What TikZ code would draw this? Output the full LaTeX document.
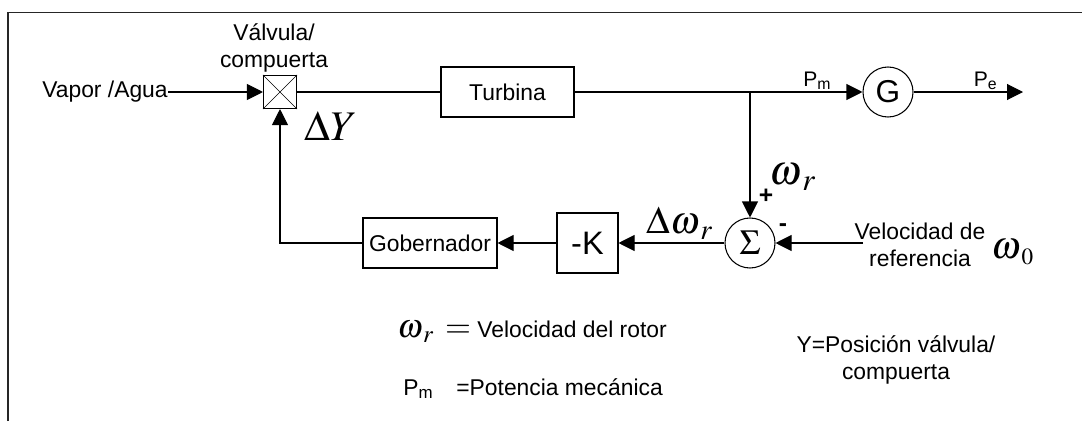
\documentclass[tikz,border=0pt]{standalone}
\usepackage{mathptmx}
\usepackage[no-math]{fontspec}
\setmainfont{Liberation Sans}
\usetikzlibrary{positioning,arrows.meta}

\begin{document}
\begin{tikzpicture}[
    blk/.style={rectangle, draw, line width=0.6pt, minimum height=1cm, inner sep=0pt, align=center, font=\fontsize{13}{15.5}\selectfont},
    gsum/.style={circle, draw, line width=0.6pt, minimum size=1cm, inner sep=0pt},
    txt/.style={align=center, inner sep=0pt, font=\fontsize{13}{15.5}\selectfont},
    small/.style={inner sep=0pt, font=\fontsize{12}{14}\selectfont},
    mth/.style={inner sep=0pt, font=\fontsize{22}{22}\selectfont},
    sig/.style={-{Triangle[length=0.32cm, width=0.32cm]}, line width=0.6pt},
    wire/.style={line width=0.6pt}
]
\useasboundingbox (0,0) rectangle (21.64,8.42);
\draw[line width=1.1pt, black!85] (0.16,0) -- (0.16,8.17) -- (21.64,8.17);
\node[txt, anchor=east] (vapor) at (3.36,6.58) {Vapor /Agua};
\node[blk, minimum width=0.66cm, minimum height=0.66cm] (valve) at (5.6,6.58) {};
\node[txt, above=0.05cm of valve, xshift=-0.12cm] (vlab) {Válvula/\\compuerta};
\node[blk, minimum width=2.66cm] (turb) at (10.15,6.58) {Turbina};
\coordinate (jn) at (15.0,6.58);
\node[gsum, font=\fontsize{18}{18}\selectfont] (gen) at (17.76,6.58) {G};
\coordinate (pe) at (20.46,6.58);
\node[gsum, font=\fontsize{20}{20}\selectfont] (sum) at (15.0,3.56) {$\Sigma$};
\node[blk, minimum width=1.22cm, minimum height=1.2cm, font=\fontsize{18.5}{20}\selectfont] (gain) at (11.75,3.56) {-K};
\node[blk, minimum width=2.68cm] (gob) at (8.6,3.56) {Gobernador};
\coordinate (vref) at (17.26,3.56);
\node[txt] (vreftxt) at (18.4,3.52) {Velocidad de\\referencia};
\node[mth] (w0) at (20.26,3.38) {$\omega_{\,\scriptscriptstyle 0}$};
\node[mth, font=\fontsize{24}{24}\selectfont] (dY) at (6.62,5.9) {$\Delta Y$};
\node[mth, font=\fontsize{24}{24}\selectfont] (wr) at (15.86,4.88) {$\omega_{\,r}$};
\node[inner sep=0pt, font=\bfseries\fontsize{14}{14}\selectfont] (plus) at (15.32,4.5) {+};
\node[inner sep=0pt, font=\bfseries\fontsize{14}{14}\selectfont] (minus) at (15.66,3.86) {-};
\node[mth] (dwr) at (13.6,3.96) {$\Delta\omega_{\,r}$};
\node[txt, anchor=base west] (legwr) at (7.94,1.68) {{\fontsize{19}{19}\selectfont$\omega_{\,r}\,=$}\ Velocidad del rotor};
\node[txt, anchor=base west] (legpm) at (8.06,0.52) {P\textsubscript{m}\quad=Potencia mecánica};
\node[txt] (legy) at (17.92,1.22) {Y=Posición válvula/\\compuerta};
\draw[sig] (vapor.east) -- (valve.west);
\draw[line width=0.4pt] (valve.north west) -- (valve.south east) (valve.north east) -- (valve.south west);
\draw[wire] (valve.east) -- (turb.west);
\draw[wire] (turb.east) -- (jn);
\draw[sig] (jn) -- (gen.west) node[pos=0.6, above=0.04cm, small] {P\textsubscript{m}};
\draw[sig] (gen.east) -- (pe) node[pos=0.66, above=0.04cm, small] {P\textsubscript{e}};
\draw[sig] (jn) -- (sum.north);
\draw[sig] (vref) -- (sum.east);
\draw[sig] (sum.west) -- (gain.east);
\draw[sig] (gain.west) -- (gob.east);
\draw[sig] (gob.west) -| (valve.south);
\end{tikzpicture}
\end{document}
